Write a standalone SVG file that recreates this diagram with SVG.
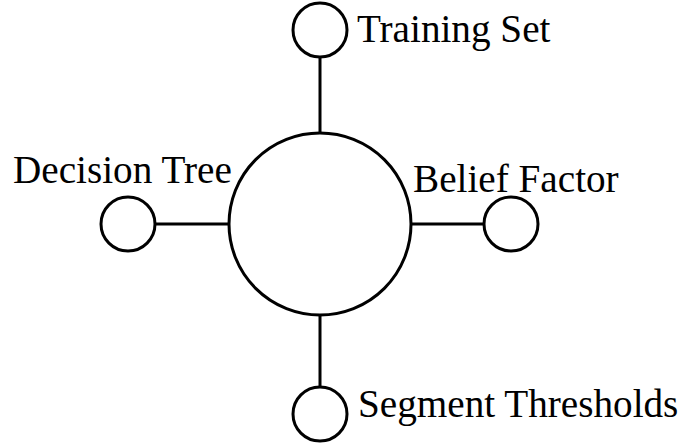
<svg xmlns="http://www.w3.org/2000/svg" width="681" height="444" viewBox="0 0 681 444">
<style>
.n{fill:#fff;stroke:#000;stroke-width:3}
.c{stroke:#000;stroke-width:3;fill:none}
.t{font-family:"Liberation Serif","Times New Roman",serif;font-size:39.2px;fill:#000}
</style>
<rect width="681" height="444" fill="#fff"/>
<g id="connectors">
<line class="c" x1="320" y1="57" x2="320" y2="133"/>
<line class="c" x1="155" y1="224" x2="229" y2="224"/>
<line class="c" x1="411" y1="224" x2="484" y2="224"/>
<line class="c" x1="320" y1="315" x2="320" y2="388"/>
</g>
<g id="center"><circle class="n" cx="320" cy="224" r="91"/></g>
<g id="training"><circle class="n" cx="320" cy="30" r="27"/><text class="t" x="357" y="42">Training Set</text></g>
<g id="decision"><circle class="n" cx="128" cy="224" r="27"/><text class="t" x="13" y="183">Decision Tree</text></g>
<g id="belief"><circle class="n" cx="511" cy="224" r="27"/><text class="t" x="413" y="192">Belief Factor</text></g>
<g id="segment"><circle class="n" cx="320" cy="414" r="27"/><text class="t" x="358" y="417">Segment Thresholds</text></g>
</svg>
